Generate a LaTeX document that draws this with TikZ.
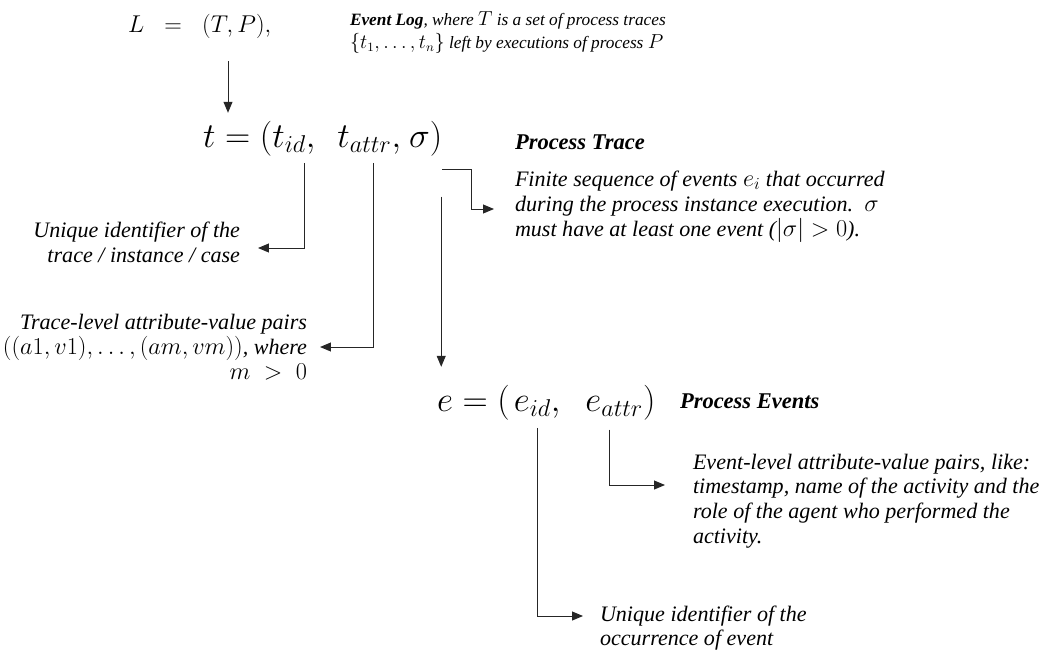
\documentclass[tikz,border=0pt]{standalone}
\usepackage{fontspec}
\setmainfont{Liberation Serif}
\usetikzlibrary{arrows.meta,positioning,calc}

% math inside the notes, a bit larger than the text
\newcommand{\notemath}[1]{{\fontsize{16.5}{17.3}\selectfont\smash{$#1$}}}
\newcommand{\logmath}[1]{{\fontsize{13.5}{16.4}\selectfont$#1$}}

\begin{document}
\begin{tikzpicture}[
  x=0.025cm, y=-0.025cm,
  every node/.style={inner sep=0pt, outer sep=0pt},
  formula/.style={font=\fontsize{24}{28}\selectfont, anchor=base west},
  note/.style={font=\fontsize{15.7}{17.6}\selectfont\itshape, align=left, anchor=west},
  noteright/.style={note, align=right, anchor=east},
  heading/.style={font=\fontsize{16}{17.3}\selectfont\bfseries\itshape, anchor=west},
  conn/.style={-{Triangle[length=2.7mm,width=2.2mm]}, line width=0.7pt, draw=black!85}
]
\useasboundingbox (0,0) rectangle (1051,653);

% Event log
\node[formula, font=\fontsize{18}{22}\selectfont] (Lform) at (128,32) {$L\;\;=\;\;(T,P),$};
\node[note, font=\fontsize{12.3}{16.4}\selectfont\itshape] (logtext) at (350,33)
  {\textbf{Event Log}, where \logmath{T} is a set of process traces\\\logmath{\{t_1, \ldots, t_n\}} left by executions of process \logmath{P}};

% Process trace
\node[formula] (tlhs) at (203,147) {$t = ($};
\node[formula] (tid) at (tlhs.base east) {$t_{id},$};
\node[formula] (tattr) at ($(tid.base east)+(22,0)$) {$t_{attr},$};
\node[formula] (tsig) at ($(tattr.base east)+(8,0)$) {$\sigma)$};
\node[heading] (tracehead) at (515,142) {Process Trace};
\node[note, font=\fontsize{15.7}{18}\selectfont\itshape] (sigtext) at (515,206)
  {Finite sequence of events \notemath{e_i} that occurred\\during the process instance execution.\ \ \notemath{\sigma}\\must have at least one event (\notemath{|\sigma|>0}).};
\node[noteright] (tidtext) at (240,242) {Unique identifier of the\\trace / instance / case};
\node[noteright] (tattrtext) at (307,347)
  {Trace-level attribute-value pairs\\\notemath{((a1,v1),\ldots,(am,vm))}, where\\\notemath{m\;>\;0}};

% Process events
\node[formula] (elhs) at (437,411) {$e = ($};
\node[formula] (eid) at ($(elhs.base east)+(4,0)$) {$e_{id},$};
\node[formula] (eattr) at ($(eid.base east)+(25,0)$) {$e_{attr})$};
\node[heading] (eventhead) at (680,401) {Process Events};
\node[note] (eattrtext) at (693,501)
  {Event-level attribute-value pairs, like:\\timestamp, name of the activity and the\\role of the agent who performed the\\activity.};
\node[note] (eidtext) at (600,628) {Unique identifier of the\\occurrence of event};

% connectors
\coordinate (Ldrop) at ($(Lform.south west)+(100,23)$);
\draw[conn] (Ldrop) -- ($(Ldrop |- tlhs.north)+(0,-8)$);
\draw[conn] ($(tsig.south east)+(0,14)$) -- ++(29,0) |- ($(sigtext.west)+(-21,3)$);
\draw[conn] ($(tid.south east)+(-11,9)$) |- ($(tidtext.east)+(18,6)$);
\draw[conn] ($(tattr.south west)+(36,9)$) |- ($(tattrtext.east)+(13,0)$);
\coordinate (sigdrop) at ($(tsig.south east)+(-1,41)$);
\draw[conn] (sigdrop) -- ($(sigdrop |- elhs.north)+(0,-18)$);
\draw[conn] ($(eid.south)+(0,10)$) |- ($(eidtext.west)+(-17,-12)$);
\draw[conn] ($(eattr.south west)+(24,10)$) |- ($(eattrtext.west)+(-28,-16)$);

\end{tikzpicture}
\end{document}
